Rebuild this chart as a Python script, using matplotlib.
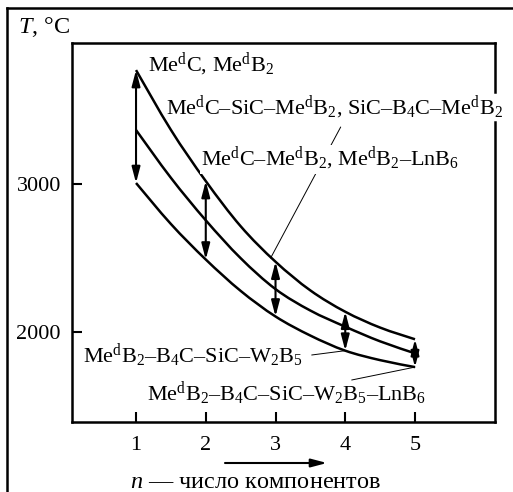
import matplotlib
matplotlib.use('Agg')
import matplotlib.pyplot as plt
from matplotlib.path import Path
from matplotlib.patches import PathPatch, FancyArrowPatch
from matplotlib.lines import Line2D

# ---- data ----
n_vals = [1, 1.5, 2, 2.5, 3, 3.5, 4, 4.5, 5]
t_top = [3770, 3366, 3020, 2715, 2475, 2281, 2137, 2030, 1951]
t_mid = [3365, 3042, 2755, 2499, 2290, 2145, 2036, 1937, 1856]
t_bot = [3007, 2730, 2490, 2278, 2105, 1976, 1874, 1810, 1763]
arrow_n = [1, 2, 3, 4, 5]
x_ticks = [1, 2, 3, 4, 5]
y_ticks = [2000, 3000]
labels = [
    "Me$^{\\mathrm{d}}$C, Me$^{\\mathrm{d}}$B$_2$",
    "Me$^{\\mathrm{d}}$C–SiC–Me$^{\\mathrm{d}}$B$_2$, SiC–B$_4$C–Me$^{\\mathrm{d}}$B$_2$",
    "Me$^{\\mathrm{d}}$C–Me$^{\\mathrm{d}}$B$_2$, Me$^{\\mathrm{d}}$B$_2$–LnB$_6$",
    "Me$^{\\mathrm{d}}$B$_2$–B$_4$C–SiC–W$_2$B$_5$",
    "Me$^{\\mathrm{d}}$B$_2$–B$_4$C–SiC–W$_2$B$_5$–LnB$_6$",
]
y_label = "$T$, °C"
x_label = "$n$ — число компонентов"

plt.rcParams['font.family'] = ['Liberation Serif', 'DejaVu Serif']
plt.rcParams['mathtext.fontset'] = 'custom'
plt.rcParams['mathtext.rm'] = 'Liberation Serif'
plt.rcParams['mathtext.it'] = 'Liberation Serif:italic'
plt.rcParams['mathtext.bf'] = 'Liberation Serif:bold'

W, H = 513, 492
FS = 16
FS_AX = 17.5
fig = plt.figure(figsize=(W / 100, H / 100), dpi=100)
ax = fig.add_axes([72 / W, 1 - 422 / H, 423 / W, 379 / H])
ax.set_xlim(0.082, 6.147)
ax.set_ylim(1392, 3953)


def fp(x, y):
    return (x / W, 1 - y / H)


def smooth_path(x, y):
    pts = list(zip(x, y))
    verts = [pts[0]]
    codes = [Path.MOVETO]
    for i in range(len(pts) - 1):
        p0 = pts[i - 1] if i > 0 else pts[i]
        p1 = pts[i]
        p2 = pts[i + 1]
        p3 = pts[i + 2] if i + 2 < len(pts) else pts[i + 1]
        c1 = (p1[0] + (p2[0] - p0[0]) / 6, p1[1] + (p2[1] - p0[1]) / 6)
        c2 = (p2[0] - (p3[0] - p1[0]) / 6, p2[1] - (p3[1] - p1[1]) / 6)
        verts += [c1, c2, p2]
        codes += [Path.CURVE4] * 3
    return Path(verts, codes)


for ys in (t_top, t_mid, t_bot):
    ax.add_patch(PathPatch(smooth_path(n_vals, ys), fill=False, lw=1.8,
                           edgecolor='black', capstyle='butt', zorder=3))

for nv in arrow_n:
    i = n_vals.index(nv)
    ax.annotate('', xy=(nv, t_top[i]), xytext=(nv, t_bot[i]),
                arrowprops=dict(arrowstyle='<|-|>,head_length=0.95,head_width=0.25',
                                mutation_scale=10, lw=1.5, color='black',
                                shrinkA=0, shrinkB=0), zorder=4)

ax.set_xticks(x_ticks)
ax.set_yticks(y_ticks)
ax.tick_params(direction='in', length=7, width=1.5, labelsize=FS, pad=10,
               top=False, right=False)
ax.tick_params(axis='y', pad=8)
for s in ax.spines.values():
    s.set_linewidth(1.8)
# right spine drawn with a gap where the long label crosses it
ax.spines['right'].set_visible(False)
for y0, y1 in ((0, (422 - 122) / 379), ((422 - 92) / 379, 1)):
    ax.add_line(Line2D([1, 1], [y0, y1], transform=ax.transAxes, color='black',
                       lw=1.8, clip_on=False, solid_capstyle='projecting'))

# labels
wb = dict(facecolor='white', edgecolor='none', pad=0.5)
fig.text(*fp(148, 71), labels[0], fontsize=FS, va='baseline', ha='left')
fig.text(*fp(165.7, 114), labels[1], fontsize=FS, va='baseline', ha='left')
fig.text(*fp(201, 165.7), labels[2], fontsize=FS, va='baseline', ha='left',
         bbox=wb, zorder=10)
fig.text(*fp(82.7, 362.7), labels[3], fontsize=FS, va='baseline', ha='left')
fig.text(*fp(146.7, 400.5), labels[4], fontsize=FS, va='baseline', ha='left')

fig.text(*fp(18, 33), y_label, fontsize=FS_AX, va='baseline', ha='left')
fig.text(*fp(256, 488), x_label, fontsize=FS_AX, va='baseline', ha='center')

# leader lines
leader = dict(arrowstyle='-', lw=0.7, color='black', shrinkA=0, shrinkB=0)
ax.annotate('', xy=(2.93, 2500), xytext=fp(340.7, 127),
            textcoords='figure fraction', arrowprops=leader, zorder=2)
ax.annotate('', xy=(4, t_bot[n_vals.index(4)]), xytext=fp(311.7, 355),
            textcoords='figure fraction', arrowprops=leader)
ax.annotate('', xy=(5, t_bot[n_vals.index(5)]), xytext=fp(351.7, 380),
            textcoords='figure fraction', arrowprops=leader)

# horizontal arrow under the axis
fig.add_artist(FancyArrowPatch(
    fp(225, 463), fp(327, 463), transform=fig.transFigure,
    arrowstyle='-|>,head_length=0.95,head_width=0.25', mutation_scale=10,
    lw=1.5, color='black', shrinkA=0, shrinkB=0))

# outer frame (left and top edges visible)
fig.add_artist(Line2D([7 / W, 7 / W], [0, 1 - 8 / H], transform=fig.transFigure,
                      color='black', lw=1.8, solid_capstyle='projecting'))
fig.add_artist(Line2D([7 / W, 1], [1 - 8 / H, 1 - 8 / H], transform=fig.transFigure,
                      color='black', lw=1.8, solid_capstyle='projecting'))

fig.savefig('out.png', dpi=100)
